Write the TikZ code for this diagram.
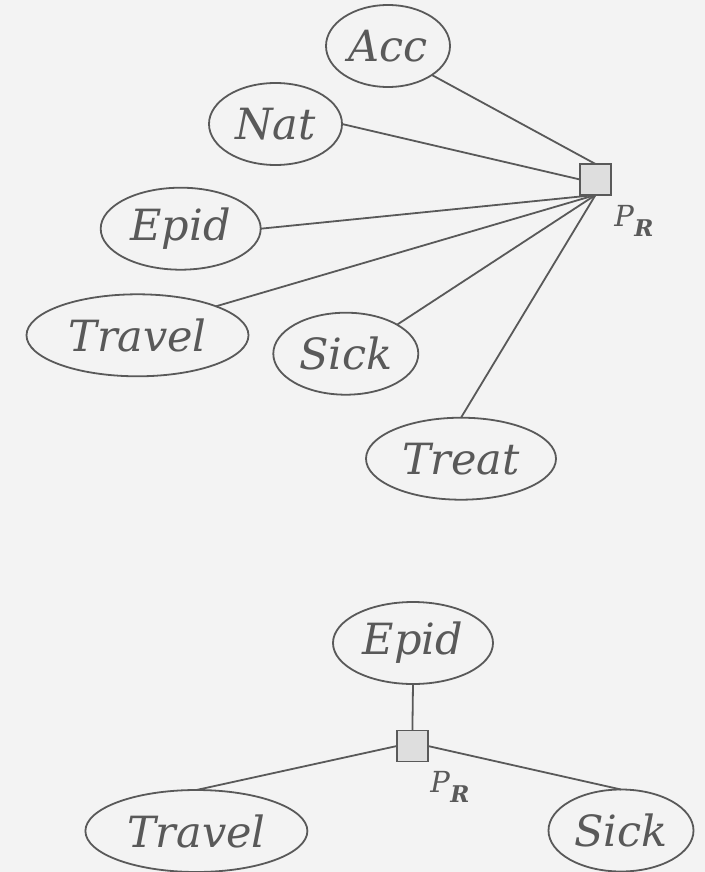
\documentclass[tikz,border=0pt]{standalone}
\usepackage{fontspec}
\setmainfont{DejaVu Serif}
\definecolor{bgc}{HTML}{F3F3F3}
\definecolor{ink}{HTML}{595959}
\definecolor{boxfill}{HTML}{DEDEDE}
\usetikzlibrary{shapes.geometric}
\newcommand{\prlab}{\textit{P}\raisebox{-0.32em}{\fontsize{11.5}{13}\selectfont\bfseries\itshape R}}
\tikzset{
  var/.style={ellipse, draw=ink, line width=0.9pt, inner sep=0pt, outer sep=0pt,
    minimum height=41pt, text=ink, font=\fontsize{21.5}{26}\selectfont\itshape},
  factor/.style={rectangle, draw=ink, fill=boxfill, line width=0.9pt,
    minimum size=15.5pt, inner sep=0pt, outer sep=0pt},
  flabel/.style={text=ink, inner sep=0pt, font=\fontsize{14.5}{17}\selectfont},
  edge/.style={draw=ink, line width=0.9pt}
}
\begin{document}
\begin{tikzpicture}[x=0.5pt,y=-0.5pt]
  % canvas
  \fill[bgc] (0,0) rectangle (705,872);
  \useasboundingbox (0,0) rectangle (705,872);

  % upper factor graph: all variables joined to one factor
  \node[var, minimum width=62pt]   (acc)    at (388,46)      {Acc};
  \node[var, minimum width=66.5pt] (nat)    at (275.5,124)   {Nat};
  \node[var, minimum width=80pt]   (epid)   at (180.7,228.7) {Epid};
  \node[var, minimum width=111pt]  (travel) at (137.5,335.3) {Travel};
  \node[var, minimum width=72.5pt] (sick)   at (345.8,353.7) {Sick};
  \node[var, minimum width=95pt]   (treat)  at (461,458.7)   {Treat};
  \node[factor] (fa) at (595.5,179.5) {};
  \node[flabel] (pra) at (634,221) {\prlab};

  \draw[edge] (acc.south east) -- (fa.north);
  \draw[edge] (nat.east) -- (fa.west);
  \draw[edge] (epid.east) -- (fa.south);
  \draw[edge] (travel.north east) -- (fa.south);
  \draw[edge] (sick.north east) -- (fa.south);
  \draw[edge] (treat.north) -- (fa.south);

  % lower factor graph: reduced factor
  \node[var, minimum width=80pt]   (epidb)   at (413,643)     {Epid};
  \node[factor] (fb) at (412.4,746) {};
  \node[flabel] (prb) at (450,787) {\prlab};
  \node[var, minimum width=111pt]  (travelb) at (196.4,831)   {Travel};
  \node[var, minimum width=72.5pt] (sickb)   at (621,830.5)   {Sick};

  \draw[edge] (epidb.south) -- (fb.north);
  \draw[edge] (travelb.north) -- (fb.west);
  \draw[edge] (sickb.north) -- (fb.east);
\end{tikzpicture}
\end{document}
